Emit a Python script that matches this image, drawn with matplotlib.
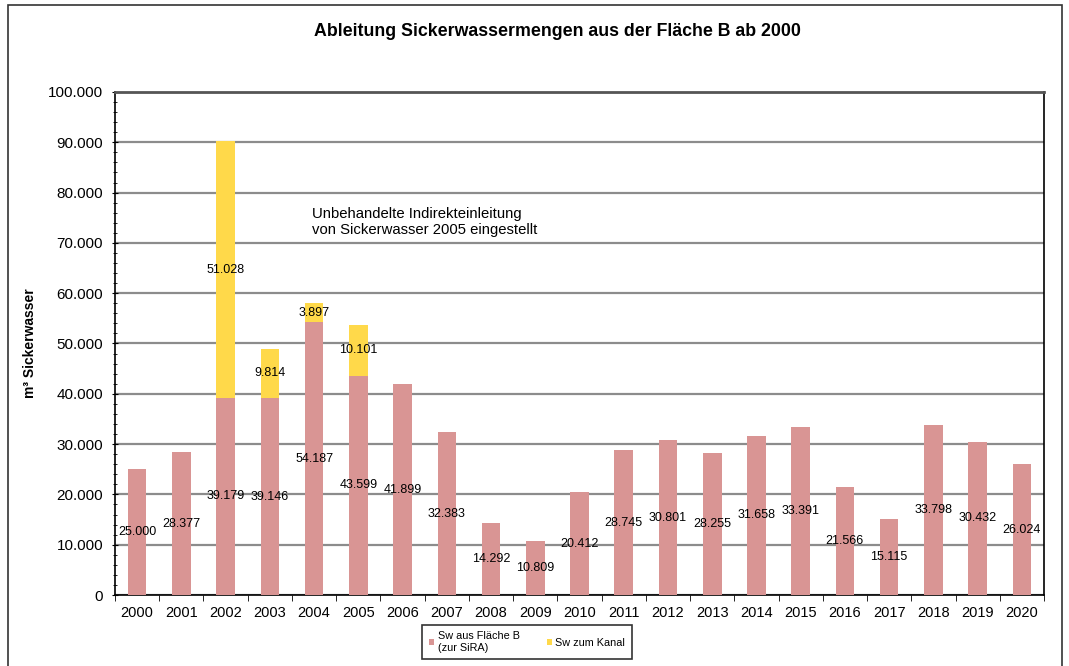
import matplotlib.pyplot as plt
import numpy as np
from matplotlib.patches import Rectangle
from matplotlib.ticker import MultipleLocator, FuncFormatter

plt.rcParams['font.family'] = ['Liberation Sans', 'DejaVu Sans']

# Daten
jahre = ['2000', '2001', '2002', '2003', '2004', '2005', '2006', '2007', '2008', '2009', '2010',
         '2011', '2012', '2013', '2014', '2015', '2016', '2017', '2018', '2019', '2020']
sw_sira = [25000, 28377, 39179, 39146, 54187, 43599, 41899, 32383, 14292, 10809, 20412,
           28745, 30801, 28255, 31658, 33391, 21566, 15115, 33798, 30432, 26024]
sw_kanal = [0, 0, 51028, 9814, 3897, 10101, 0, 0, 0, 0, 0,
            0, 0, 0, 0, 0, 0, 0, 0, 0, 0]

def fmt(v):
    return f'{v:,.0f}'.replace(',', '.')

fig = plt.figure(figsize=(10.69, 6.66), dpi=100)
ax = fig.add_axes([0.1076, 0.1066, 0.9766 - 0.1076, 0.8619 - 0.1066])

x = np.arange(len(jahre))
b1 = ax.bar(x, sw_sira, width=0.42, color='#D99594', zorder=3, label='Sw aus Fläche B\n(zur SiRA)')
b2 = ax.bar(x, sw_kanal, width=0.42, bottom=sw_sira, color='#FFD94A', zorder=3, label='Sw zum Kanal')

# Werte in die Mitte der Segmente schreiben
for i in range(len(jahre)):
    ax.text(x[i], sw_sira[i] / 2, fmt(sw_sira[i]), ha='center', va='center', fontsize=9, zorder=4)
    if sw_kanal[i] > 0:
        ax.text(x[i], sw_sira[i] + sw_kanal[i] / 2, fmt(sw_kanal[i]), ha='center', va='center',
                fontsize=9, zorder=4)

ax.set_xlim(-0.5, len(jahre) - 0.5)
ax.set_ylim(0, 100000)
ax.yaxis.set_major_locator(MultipleLocator(10000))
ax.yaxis.set_minor_locator(MultipleLocator(2000))
ax.yaxis.set_major_formatter(FuncFormatter(lambda v, p: fmt(v)))
ax.set_xticks(x)
ax.set_xticklabels(jahre)
ax.set_xticks(np.arange(-0.5, len(jahre)), minor=True)
ax.tick_params(axis='x', which='major', length=0, pad=8, labelsize=10.5)
ax.tick_params(axis='x', which='minor', length=4, direction='out')
ax.tick_params(axis='y', which='major', length=5, direction='inout', labelsize=11, pad=6)
ax.tick_params(axis='y', which='minor', length=3, direction='inout')
ax.grid(axis='y', which='major', color='#8c8c8c', linewidth=1.6, zorder=1)
for s in ax.spines.values():
    s.set_linewidth(1.2)
ax.spines['top'].set_color('#555555')
ax.spines['top'].set_linewidth(2)

ax.set_ylabel('m³ Sickerwasser', fontsize=10, fontweight='bold', labelpad=8)
fig.text(0.5216, 0.953, 'Ableitung Sickerwassermengen aus der Fläche B ab 2000', ha='center', va='center',
         fontsize=12.8, fontweight='bold')

ax.text(3.95, 74200, 'Unbehandelte Indirekteinleitung\nvon Sickerwasser 2005 eingestellt',
        ha='left', va='center', fontsize=10.7, linespacing=1.15)

leg = fig.legend(handles=[b1, b2], loc='center', bbox_to_anchor=(0.493, 0.036), ncol=2,
                 fontsize=7.8, frameon=True, fancybox=False, edgecolor='black',
                 handlelength=0.5, handleheight=0.5, handletextpad=0.3, columnspacing=2.5,
                 borderpad=0.6)
leg.get_frame().set_linewidth(1.2)

# Rahmen um das gesamte Diagramm
fig.add_artist(Rectangle((8 / 1069, -0.05), (1062 - 8) / 1069, 1.05 - 5 / 666,
                         transform=fig.transFigure, fill=False, edgecolor='#333333', linewidth=1.2))

plt.savefig('out.png', dpi=100)
